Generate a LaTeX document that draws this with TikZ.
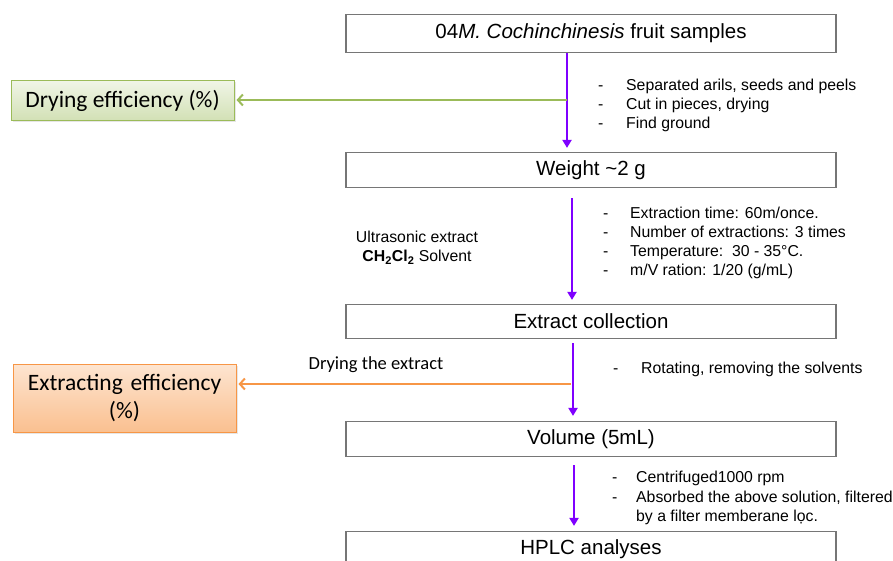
\documentclass[tikz,border=0pt]{standalone}
\usepackage{fontspec}
\setmainfont{Liberation Sans}
\newfontfamily\calibri{Carlito}
\usepackage{tikz}
\usetikzlibrary{arrows.meta,calc,shadows}
\definecolor{flowviolet}{HTML}{7F00FF}
\definecolor{leafgreen}{HTML}{9BBB59}
\definecolor{peach}{HTML}{F79646}
\definecolor{boxgray}{HTML}{767676}

\begin{document}
\begin{tikzpicture}[x=1pt,y=-1pt,
  stepbox/.style={draw=boxgray, line width=1.2pt, minimum width=490pt,
    minimum height=35pt, inner sep=0pt, font=\fontsize{20.5}{24}\selectfont},
  resultbox/.style={line width=1pt, minimum width=223pt, inner sep=0pt,
    align=center, font=\calibri\fontsize{23.5}{28}\selectfont,
    drop shadow={opacity=0.2, shadow xshift=1.5pt, shadow yshift=-1.5pt}},
  notes/.style={anchor=base west, inner sep=0pt,
    font=\fontsize{15.8}{19}\selectfont},
  flow/.style={flowviolet, line width=2.4pt, -{Triangle[length=8pt,width=9pt]}},
  side/.style={line width=2pt, -{Straight Barb[length=5pt,width=11pt]}}]
  \useasboundingbox (0,0) rectangle (893,561);

  % main steps
  \node[stepbox, minimum height=38pt] (fruit) at (591,33.5)
    {04\textit{M. Cochinchinesis} fruit samples};
  \node[stepbox] (weight) at (591,170) {Weight \char`\~2 g};
  \node[stepbox, minimum height=34pt] (collect) at (591,321.5) {Extract collection};
  \node[stepbox] (volume) at (591,439) {Volume (5mL)};
  \node[stepbox] (hplc) at (591,549) {HPLC analyses};

  % results on the left
  \node[resultbox, draw=leafgreen, top color=leafgreen!15, bottom color=leafgreen!45,
    minimum height=40pt] (dry) at (122.5,101) {Drying efficiency (\%)};
  \node[resultbox, draw=peach, top color=peach!25, bottom color=peach!60,
    minimum height=68pt, text width=223pt] (extract) at (124.5,398)
    {Extracting efficiency\\(\%)};

  % flow arrows
  \draw[flow, shorten >=4pt] ([xshift=-24pt]fruit.south) -- ([xshift=-24pt]weight.north);
  \draw[flow, shorten <=10pt, shorten >=4pt] ([xshift=-19pt]weight.south) -- ([xshift=-19pt]collect.north);
  \draw[flow, shorten <=4pt, shorten >=5pt] ([xshift=-18pt]collect.south) -- ([xshift=-18pt]volume.north);
  \draw[flow, shorten <=8pt, shorten >=5pt] ([xshift=-17pt]volume.south) -- ([xshift=-17pt]hplc.north);

  % side branches
  \coordinate (split1) at (567,100);
  \coordinate (split2) at (571,384);
  \draw[side, leafgreen, shorten >=2pt] (split1) -- (split1 -| dry.east);
  \draw[side, peach, shorten >=2pt] (split2) -- (split2 -| extract.east);
  \node[font=\calibri\fontsize{18.5}{22}\selectfont] (dryext) at (376,365) {Drying the extract};

  % conditions
  \node[align=center, font=\fontsize{15.8}{19}\selectfont] (ultra) at (417,247.5)
    {Ultrasonic extract\\\textbf{CH\textsubscript{2}Cl\textsubscript{2}} Solvent};
  \node[notes] (cut) at (598,90.5) {\begin{tabular}[t]{@{}p{28pt}@{}l@{}}
    - & Separated arils, seeds and peels\\
    - & Cut in pieces, drying\\
    - & Find ground
  \end{tabular}};
  \node[notes] (cond) at (603,218.5) {\begin{tabular}[t]{@{}p{27pt}@{}l@{}}
    - & Extraction time: 60m/once.\\
    - & Number of extractions: 3 times\\
    - & Temperature:\ \ 30 - 35°C.\\
    - & m/V ration: 1/20 (g/mL)
  \end{tabular}};
  \node[notes] (rot) at (613,373.5) {\begin{tabular}[t]{@{}p{28pt}@{}l@{}}
    - & Rotating, removing the solvents
  \end{tabular}};
  \node[notes, font=\fontsize{15.8}{19.5}\selectfont] (centr) at (612,482.5)
    {\begin{tabular}[t]{@{}p{24pt}@{}l@{}}
    - & Centrifuged1000 rpm\\
    - & Absorbed the above solution, filtered\\
      & by a filter memberane lọc.
  \end{tabular}};
\end{tikzpicture}
\end{document}
